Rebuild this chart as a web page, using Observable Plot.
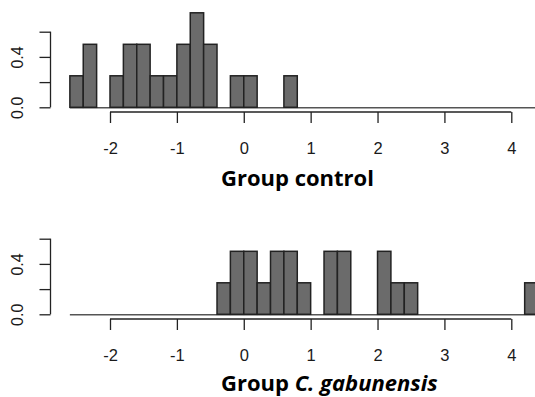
<!DOCTYPE html>
<html>
<head>
<meta charset="utf-8">
<script src="https://cdn.jsdelivr.net/npm/d3@7"></script>
<script src="https://cdn.jsdelivr.net/npm/@observablehq/plot@0.6"></script>
<style>
  html, body { margin: 0; padding: 0; background: #fff; width: 535px; height: 397px; overflow: hidden; }
  .panel { position: relative; width: 535px; }
  .panel svg { overflow: hidden; }
  .title { font-family: "Open Sans", sans-serif; font-weight: 700; font-size: 22px; color: #000; padding-left: 221px; white-space: nowrap; }
  svg { display: block; }
</style>
</head>
<body>
<div id="top" class="panel" style="height:207px"></div>
<div id="bottom" class="panel" style="height:190px"></div>
<script>
// ---- data (density histograms, bin width 0.2) ----
const binWidth = 0.2;
const breakRange = [-2.6, 4.4];
const controlBinStarts = [-2.6, -2.4, -2.0, -1.8, -1.6, -1.4, -1.2, -1.0, -0.8, -0.6, -0.2, 0.0, 0.6];
const controlDensity   = [0.25, 0.5, 0.25, 0.5, 0.5, 0.25, 0.25, 0.5, 0.75, 0.5, 0.25, 0.25, 0.25];
const gabBinStarts = [-0.4, -0.2, 0.0, 0.2, 0.4, 0.6, 0.8, 1.2, 1.4, 2.0, 2.2, 2.4, 4.2];
const gabDensity   = [0.25, 0.5, 0.5, 0.25, 0.5, 0.5, 0.25, 0.5, 0.5, 0.5, 0.25, 0.25, 0.25];
const xTicks = [-2, -1, 0, 1, 2, 3, 4];
const yTicks = [0, 0.2, 0.4, 0.6];
const yLabelValues = [0, 0.4];
const titles = ["Group control", "Group <i>C. gabunensis</i>"];

const axisColor = "#222";
const font = "'Liberation Sans', Arial, sans-serif";

function panel(starts, dens) {
  const bins = starts.map((s, i) => ({x1: s, x2: s + binWidth, density: dens[i]}));
  const xs = [xTicks[0], xTicks[xTicks.length - 1]];
  const ys = [yTicks[0], yTicks[yTicks.length - 1]];
  return Plot.plot({
    width: 535,
    height: 160,
    marginLeft: 50.5,
    marginRight: 20,
    marginTop: 10,
    marginBottom: 48,
    style: {fontFamily: font, fontSize: "16px", color: axisColor, background: "transparent"},
    x: {domain: xs, range: [110, 511.3]},
    y: {domain: ys, range: [107.3, 31.7]},
    marks: [
      Plot.ruleY([0], {x1: breakRange[0], x2: breakRange[1], stroke: "#555", strokeWidth: 1.6}),
      Plot.rectY(bins, {x1: "x1", x2: "x2", y: "density", fill: "#6b6b6b", stroke: "#222", strokeWidth: 1.5}),
      Plot.axisX({ticks: xTicks, tickSize: 11, tickPadding: 19, tickFormat: d => String(d), label: null, stroke: axisColor, strokeWidth: 1.3, fontSize: 16.5, fill: "#1a1a1a"}),
      Plot.axisY({ticks: yTicks, tickSize: 11, tickFormat: () => "", label: null, stroke: axisColor, strokeWidth: 1.3}),
      Plot.text(yLabelValues, {y: d => d, text: d => d.toFixed(1), frameAnchor: "left", dx: -33, rotate: -90, textAnchor: "middle", lineAnchor: "middle", fontSize: 16, fill: "#1a1a1a"}),
      (index, scales, values, dims) => {
        const g = d3.create("svg:g").attr("stroke", axisColor).attr("stroke-width", 1.3).attr("fill", "none");
        const yb = dims.height - dims.marginBottom;
        g.append("line").attr("x1", scales.x(xs[0])).attr("x2", scales.x(xs[1])).attr("y1", yb).attr("y2", yb);
        g.append("line").attr("x1", dims.marginLeft).attr("x2", dims.marginLeft).attr("y1", scales.y(ys[0])).attr("y2", scales.y(ys[1]));
        return g.node();
      }
    ]
  });
}

const panels = [["top", controlBinStarts, controlDensity, 34], ["bottom", gabBinStarts, gabDensity, 30]];
panels.forEach(([id, s, d, lh], i) => {
  const el = document.getElementById(id);
  el.appendChild(panel(s, d));
  const t = document.createElement("div");
  t.className = "title";
  t.style.lineHeight = lh + "px";
  t.innerHTML = titles[i];
  el.appendChild(t);
});
</script>
</body>
</html>
